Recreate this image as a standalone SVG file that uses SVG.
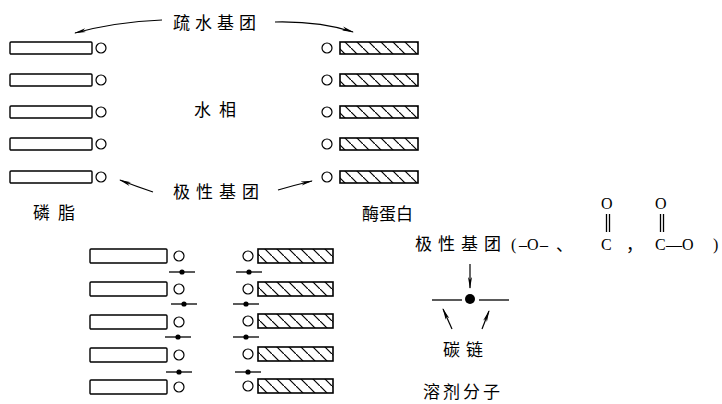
<svg xmlns="http://www.w3.org/2000/svg" width="722" height="404" viewBox="0 0 722 404">
  <style>
    .bar { fill: #fff; stroke: #000; stroke-width: 1.4; }
    .hb { fill: url(#hatch); stroke: #000; stroke-width: 1.6; }
    .head { fill: #fff; stroke: #000; stroke-width: 1.2; }
    .ln { stroke: #000; stroke-width: 1.3; fill: none; }
    .arw { stroke: #000; stroke-width: 1.2; fill: none; marker-end: url(#tip); }
    .cjk { font-family: "Noto Sans CJK SC", "Noto Sans", sans-serif; font-size: 17px; fill: #000; }
    .lat { font-family: "Liberation Serif", serif; font-size: 16px; fill: #000; }
  </style>
  <defs>
    <pattern id="hatch" patternUnits="userSpaceOnUse" width="12" height="12">
      <rect width="12" height="12" fill="#fff"/>
      <path d="M-1,-1 L13,13" stroke="#000" stroke-width="1.2"/>
    </pattern>
    <marker id="tip" markerUnits="userSpaceOnUse" viewBox="0 0 12 5" markerWidth="12" markerHeight="5" refX="11" refY="2.5" orient="auto">
      <path d="M0,0.5 L12,2.5 L0,4.5 L3,2.5 z" fill="#000"/>
    </marker>
    <!-- phospholipid: tail bar with polar head on the right -->
    <g id="lipid">
      <rect class="bar" x="0" y="-6" width="82" height="12" rx="1"/>
      <circle class="head" cx="91" cy="0" r="5"/>
    </g>
    <!-- enzyme protein: polar head on the left with hatched bar -->
    <g id="protein">
      <circle class="head" cx="0" cy="0" r="5"/>
      <rect class="hb" x="13" y="-6" width="78" height="12"/>
    </g>
    <g id="lipid2">
      <rect class="bar" x="0" y="-7" width="77" height="14" rx="1"/>
      <circle class="head" cx="89" cy="0" r="5"/>
    </g>
    <g id="protein2">
      <circle class="head" cx="0" cy="0" r="5"/>
      <rect class="hb" x="10" y="-7" width="75" height="14"/>
    </g>
    <!-- solvent molecule: carbon chain with polar centre -->
    <g id="solvent">
      <line class="ln" x1="-13" y1="0" x2="13" y2="0"/>
      <circle cx="0" cy="0" r="2.6" fill="#000"/>
    </g>
  </defs>

  <!-- upper layer: phospholipids on the left -->
  <g id="lipids-top">
    <use href="#lipid" x="10" y="48"/>
    <use href="#lipid" x="10" y="80"/>
    <use href="#lipid" x="10" y="112"/>
    <use href="#lipid" x="10" y="144"/>
    <use href="#lipid" x="10" y="177"/>
  </g>

  <!-- upper layer: enzyme proteins on the right -->
  <g id="proteins-top">
    <use href="#protein" x="327" y="48"/>
    <use href="#protein" x="327" y="80"/>
    <use href="#protein" x="327" y="112"/>
    <use href="#protein" x="327" y="144"/>
    <use href="#protein" x="327" y="177"/>
  </g>

  <!-- lower layer: phospholipids -->
  <g id="lipids-bottom">
    <use href="#lipid2" x="90" y="256"/>
    <use href="#lipid2" x="90" y="289"/>
    <use href="#lipid2" x="90" y="322"/>
    <use href="#lipid2" x="90" y="355"/>
    <use href="#lipid2" x="90" y="387"/>
  </g>

  <!-- lower layer: enzyme proteins -->
  <g id="proteins-bottom">
    <use href="#protein2" x="248" y="256"/>
    <use href="#protein2" x="248" y="289"/>
    <use href="#protein2" x="248" y="321"/>
    <use href="#protein2" x="248" y="354"/>
    <use href="#protein2" x="248" y="386"/>
  </g>

  <!-- solvent molecules between the polar heads -->
  <g id="solvents">
    <use href="#solvent" x="182" y="272"/>
    <use href="#solvent" x="184" y="304"/>
    <use href="#solvent" x="178" y="337"/>
    <use href="#solvent" x="179" y="372"/>
    <use href="#solvent" x="249" y="272"/>
    <use href="#solvent" x="246" y="304"/>
    <use href="#solvent" x="246" y="337"/>
    <use href="#solvent" x="248" y="372"/>
  </g>

  <!-- solvent molecule legend -->
  <g id="solvent-legend">
    <line class="ln" x1="432" y1="300" x2="462" y2="300"/>
    <line class="ln" x1="479" y1="300" x2="509" y2="300"/>
    <circle cx="470" cy="299" r="5" fill="#000"/>
  </g>

  <g id="connectors">
    <path class="arw" d="M162,20 Q115,22 75,33"/>
    <path class="arw" d="M275,22 Q320,21 353,32"/>
    <path class="arw" d="M153,192 Q135,186 120,180"/>
    <path class="arw" d="M278,190 Q295,185 312,181"/>
    <path class="arw" d="M470,264 L470,288"/>
    <path class="arw" d="M452,329 L443,309"/>
    <path class="arw" d="M482,329 L489,311"/>
  </g>

  <g id="labels">
    <text class="cjk" x="173" y="29" font-size="16" letter-spacing="5">疏水基团</text>
    <text class="cjk" x="194" y="116" letter-spacing="8">水相</text>
    <text class="cjk" x="173" y="198" letter-spacing="6">极性基团</text>
    <text class="cjk" x="33" y="219" letter-spacing="8">磷脂</text>
    <text class="cjk" x="362" y="220" font-size="15">酶蛋白</text>
    <text class="cjk" x="443" y="356" letter-spacing="6">碳链</text>
    <text class="cjk" x="423" y="398" letter-spacing="3">溶剂分子</text>
  </g>

  <!-- polar group formulas -->
  <g id="polar-groups">
    <text class="cjk" x="415" y="250" letter-spacing="6">极性基团</text>
    <text class="lat" x="511" y="250">(</text>
    <text class="lat" x="519" y="250">–</text>
    <text class="lat" x="527" y="250">O</text>
    <text class="lat" x="540" y="250">–</text>
    <text class="cjk" x="556" y="251" font-size="15">、</text>
    <text class="lat" x="601" y="250">C</text>
    <text class="cjk" x="626" y="251" font-size="15">，</text>
    <text class="lat" x="655" y="250">C</text>
    <text class="lat" x="666" y="250">—O</text>
    <text class="lat" x="713" y="250">)</text>
    <text class="lat" x="601" y="209">O</text>
    <text class="lat" x="655" y="209">O</text>
    <line class="ln" x1="606.5" y1="214" x2="606.5" y2="232" stroke-width="1"/>
    <line class="ln" x1="609.5" y1="214" x2="609.5" y2="232" stroke-width="1"/>
    <line class="ln" x1="660.5" y1="214" x2="660.5" y2="232" stroke-width="1"/>
    <line class="ln" x1="663.5" y1="214" x2="663.5" y2="232" stroke-width="1"/>
  </g>
</svg>
